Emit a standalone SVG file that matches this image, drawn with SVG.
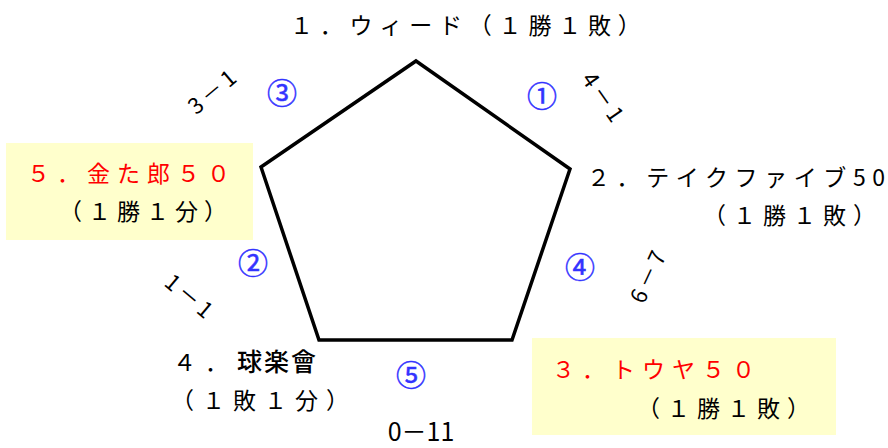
<svg xmlns="http://www.w3.org/2000/svg" width="888" height="448" viewBox="0 0 888 448">
<style>
text{font-family:"Noto Sans CJK JP","Noto Sans CJK SC",sans-serif;}
.t{font-size:23px;fill:#000;letter-spacing:7px;}
.r{font-size:23px;fill:#FF0000;letter-spacing:7px;}
.c{font-size:30px;fill:#3333FF;stroke:#3333FF;stroke-width:0.5px;text-anchor:middle;}
.s{font-size:22px;fill:#000;text-anchor:middle;letter-spacing:4px;}
.box{fill:#FFFFCC;}
</style>
<rect width="888" height="448" fill="#fff"/>
<g id="connectors">
<polygon points="416,61 570,169 512,340 319,340 261,167" fill="none" stroke="#000" stroke-width="3.5" stroke-linejoin="miter"/>
</g>
<g id="team1">
<text class="t" x="290" y="34" style="letter-spacing:6.8px">１．ウィード（１勝１敗<tspan style="letter-spacing:0px">）</tspan></text>
</g>
<g id="team2">
<text class="t" x="587" y="186" style="letter-spacing:6.6px">２．テイクファイブ5<tspan style="letter-spacing:0px">0</tspan></text>
<text class="t" x="703" y="224">（１勝１敗<tspan style="letter-spacing:0px">）</tspan></text>
</g>
<g id="team5">
<rect class="box" x="6" y="143" width="247" height="97"/>
<text class="r" x="27" y="182">５．金た郎５<tspan style="letter-spacing:0px">０</tspan></text>
<text class="t" x="59" y="220" style="letter-spacing:6px">（１勝１分<tspan style="letter-spacing:0px">）</tspan></text>
</g>
<g id="team4">
<text class="t" x="173" y="371"><tspan style="letter-spacing:9px">４．</tspan><tspan style="font-size:25px;letter-spacing:2px;font-weight:500">球楽<tspan style="letter-spacing:0px">會</tspan></tspan></text>
<text class="t" x="171" y="409" style="letter-spacing:8px">（１敗１分<tspan style="letter-spacing:0px">）</tspan></text>
</g>
<g id="team3">
<rect class="box" x="532" y="338" width="304" height="97"/>
<text class="r" x="552" y="378">３．トウヤ５<tspan style="letter-spacing:0px">０</tspan></text>
<text class="t" x="637" y="417">（１勝１敗<tspan style="letter-spacing:0px">）</tspan></text>
</g>
<g id="matches">
<text class="c" x="542" y="107">①</text>
<text class="c" x="253" y="274">②</text>
<text class="c" x="282" y="104">③</text>
<text class="c" x="580" y="278">④</text>
<text class="c" x="411" y="386">⑤</text>
</g>
<g id="scores">
<text class="s" transform="translate(212,92) rotate(-40)" y="8">3－<tspan style="letter-spacing:0px">1</tspan></text>
<text class="s" transform="translate(603,97) rotate(55)" y="8">4－<tspan style="letter-spacing:0px">1</tspan></text>
<text class="s" transform="translate(189,296) rotate(40)" y="8">1－<tspan style="letter-spacing:0px">1</tspan></text>
<text class="s" transform="translate(648,277) rotate(-65)" y="8">6－<tspan style="letter-spacing:0px">7</tspan></text>
<text class="s" x="421" y="441" style="font-size:25px;letter-spacing:0px">0－11</text>
</g>
</svg>
